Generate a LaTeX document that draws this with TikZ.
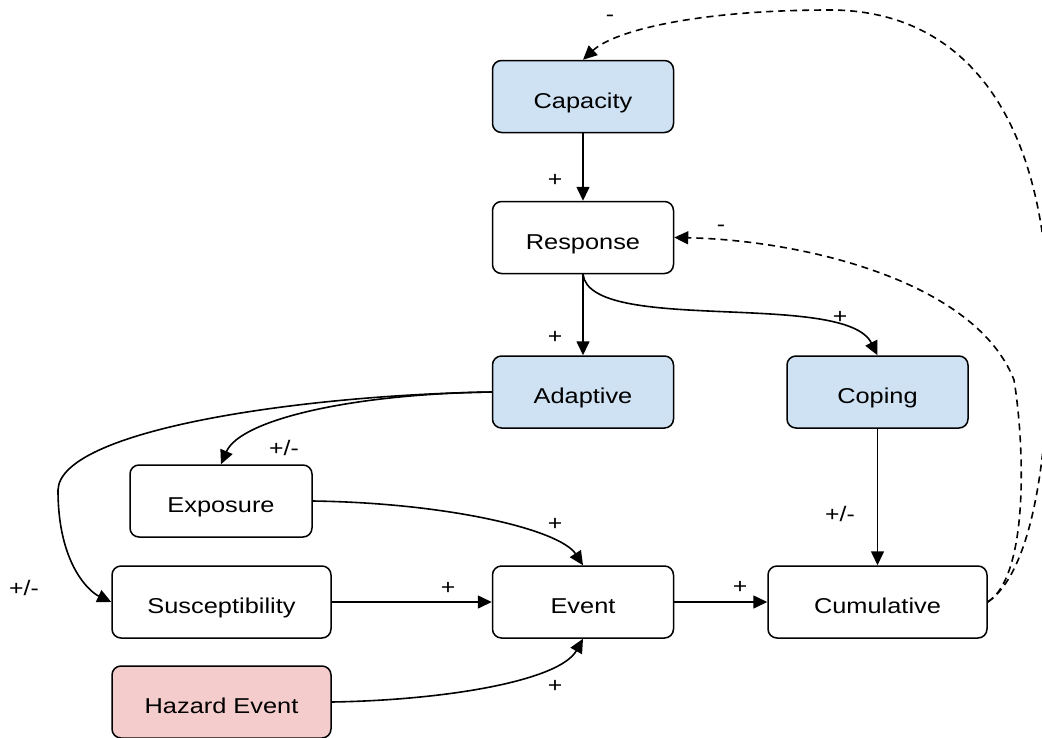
\documentclass[tikz,border=0pt]{standalone}
\usepackage{fontspec}
\setmainfont[FakeStretch=1.18]{Liberation Sans}
\usetikzlibrary{arrows.meta}
\definecolor{blueF}{HTML}{CFE2F3}
\definecolor{redF}{HTML}{F4CCCC}
\begin{document}
\begin{tikzpicture}[x=1pt,y=-1pt,
  box/.style={draw, line width=1.5pt, rounded corners=9pt, minimum width=181pt,
    minimum height=72pt, inner sep=0pt, text height=23pt, text depth=0pt,
    font=\fontsize{21.5}{25}\selectfont, fill=white},
  wide/.style={box, minimum width=219pt},
  blue/.style={fill=blueF},
  red/.style={fill=redF},
  conn/.style={line width=1.6pt, -{Triangle[length=14pt,width=13pt]}},
  dconn/.style={conn, dash pattern=on 7pt off 5pt},
  lbl/.style={font=\fontsize{21}{24}\selectfont, inner sep=0pt}]
\clip (0,0) rectangle (1042,737);
\fill[white] (0,0) rectangle (1042,737);

\node[box, blue] (cap) at (583,96.5) {Capacity};
\node[box] (resp) at (583,237.5) {Response};
\node[box, blue] (adapt) at (583,392) {Adaptive};
\node[box, blue] (coping) at (877.5,392) {Coping};
\node[box, minimum width=182pt] (expo) at (221,501) {Exposure};
\node[wide] (susc) at (221.5,602) {Susceptibility};
\node[box] (event) at (583,602) {Event};
\node[wide] (cum) at (877.5,602) {Cumulative};
\node[wide, red] (haz) at (221.5,702) {Hazard Event};

\draw[conn] (cap) -- (resp);
\draw[conn] (resp) -- (adapt);
\draw[conn] (resp.south) .. controls (590,335) and (845,290) .. (coping.north);
\draw[conn] (adapt.west) .. controls (350,394) and (240,420) .. (expo.north);
\draw[conn] (adapt.west) .. controls (300,395) and (60,430) .. (58,490)
  .. controls (58,565) and (90,592) .. (susc.west);
\draw[conn] (expo.east) .. controls (450,503) and (560,530) .. (event.north);
\draw[conn] (susc) -- (event);
\draw[conn] (haz.east) .. controls (450,700) and (560,680) .. (event.south);
\draw[conn] (event) -- (cum);
\draw[conn] (coping) -- (cum);
\draw[dconn] (cum.east) .. controls (1030,575) and (1024,440) .. (1014,380)
  .. controls (975,280) and (800,240) .. (resp.east);
\draw[dconn] (cum.east) .. controls (1035,570) and (1052,440) .. (1048,300)
  .. controls (1042,110) and (960,10) .. (830,10)
  .. controls (700,10) and (615,30) .. (cap.north);

\node[lbl] (l1) at (555,180) {+};
\node[lbl] (l2) at (555,337) {+};
\node[lbl] (l3) at (840,317) {+};
\node[lbl] (l4) at (284,448) {+/-};
\node[lbl] (l5) at (24,588) {+/-};
\node[lbl] (l6) at (448,588) {+};
\node[lbl] (l7) at (555,524) {+};
\node[lbl] (l8) at (555,686) {+};
\node[lbl] (l9) at (740,587) {+};
\node[lbl] (l10) at (840,514) {+/-};
\node[lbl] (l11) at (721,228) {-};
\node[lbl] (l12) at (610,18) {-};
\end{tikzpicture}
\end{document}
